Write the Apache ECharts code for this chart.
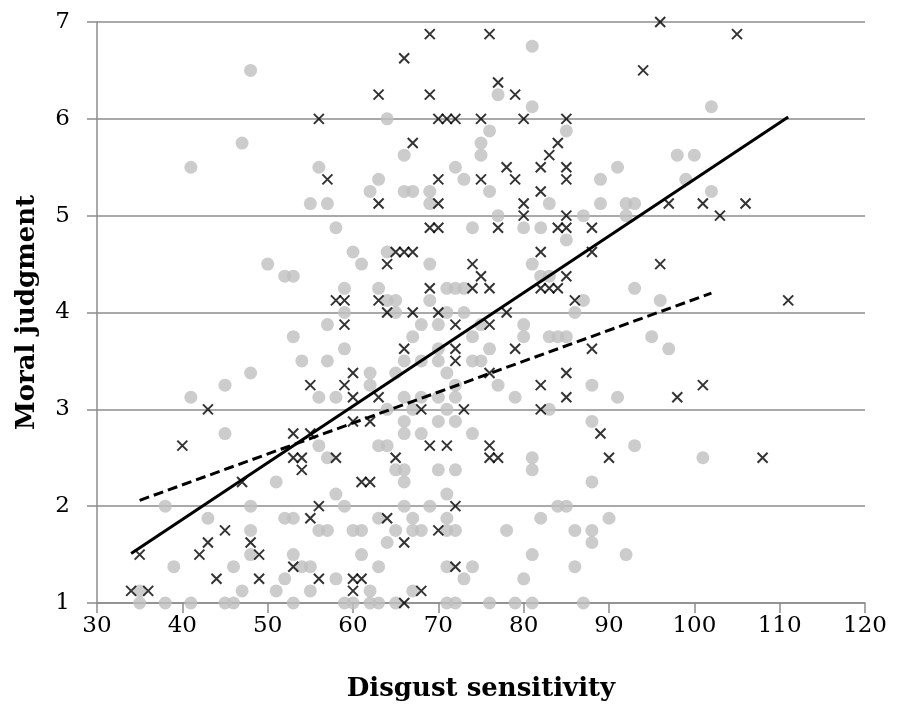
<!DOCTYPE html>
<html>
<head>
<meta charset="utf-8">
<script src="https://cdn.jsdelivr.net/npm/echarts@6/dist/echarts.min.js"></script>
<style>
  html, body { margin: 0; padding: 0; background: #fff; }
  #chart { width: 898px; height: 707px; }
</style>
</head>
<body>
<div id="chart"></div>
<script>
// gray circles: [disgust sensitivity, moral judgment]
const grayPoints = [
  [48,6.5],[47,5.75],[41,5.5],
  [64,6],[66,5.625],[75,5.75],[75,5.625],[56,5.5],[72,5.5],[63,5.375],[73,5.375],[62,5.25],[66,5.25],[67,5.25],[69,5.25],[55,5.125],[57,5.125],[69,5.125],
  [81,6.75],[77,6.25],[81,6.125],[76,5.875],[85,5.875],[98,5.625],[91,5.5],[89,5.375],[76,5.25],[83,5.125],[89,5.125],[92,5.125],[93,5.125],
  [102,6.125],[100,5.625],[99,5.375],[102,5.25],
  [50,4.5],[52,4.375],[53,4.375],[41,3.125],[45,3.25],[48,3.375],
  [45,2.75],[51,2.25],[38,2],[48,2],[43,1.875],[48,1.75],[48,1.5],[39,1.375],[46,1.375],[47,1.125],[51,1.125],[35,1.125],[35,1],[38,1],[41,1],[45,1],[46,1],
  [58,4.875],[74,4.875],[60,4.625],[64,4.625],[61,4.5],[69,4.5],[59,4.25],[63,4.25],[71,4.25],[72,4.25],[73,4.25],[64,4.125],[65,4.125],[69,4.125],
  [59,4],[65,4],[71,4],[73,4],[57,3.875],[68,3.875],[70,3.875],[53,3.75],[67,3.75],[74,3.75],[59,3.625],[70,3.625],
  [54,3.5],[57,3.5],[66,3.5],[68,3.5],[70,3.5],[74,3.5],[75,3.5],[62,3.375],[65,3.375],[71,3.375],[62,3.25],[72,3.25],
  [56,3.125],[58,3.125],[66,3.125],[68,3.125],[70,3.125],[72,3.125],[64,3],[67,3],[71,3],
  [77,5],[87,5],[92,5],[80,4.875],[82,4.875],[85,4.75],[81,4.5],[82,4.375],[83,4.375],[93,4.25],[87,4.125],[96,4.125],[86,4],
  [75,3.875],[80,3.875],[80,3.75],[83,3.75],[84,3.75],[85,3.75],[95,3.75],[76,3.625],[97,3.625],[77,3.25],[88,3.25],[79,3.125],[91,3.125],[83,3],
  [66,2.875],[70,2.875],[72,2.875],[66,2.75],[68,2.75],[74,2.75],[56,2.625],[63,2.625],[64,2.625],[57,2.5],[65,2.375],[66,2.375],[70,2.375],[72,2.375],
  [66,2.25],[58,2.125],[71,2.125],[59,2],[66,2],[69,2],[52,1.875],[53,1.875],[63,1.875],[67,1.875],[71,1.875],
  [56,1.75],[57,1.75],[60,1.75],[61,1.75],[65,1.75],[67,1.75],[68,1.75],[71,1.75],[72,1.75],[64,1.625],[53,1.5],[61,1.5],
  [54,1.375],[55,1.375],[63,1.375],[71,1.375],[74,1.375],[52,1.25],[58,1.25],[73,1.25],[55,1.125],[62,1.125],[67,1.125],
  [53,1],[59,1],[60,1],[62,1],[63,1],[65,1],[71,1],[72,1],
  [88,2.875],[93,2.625],[81,2.5],[81,2.375],[88,2.25],[84,2],[85,2],[82,1.875],[90,1.875],[78,1.75],[86,1.75],[88,1.75],[88,1.625],
  [81,1.5],[92,1.5],[86,1.375],[80,1.25],[76,1],[79,1],[81,1],[87,1],
  [101,2.5]
];

// black crosses
const crossPoints = [
  [69,6.875],[66,6.625],[63,6.25],[69,6.25],[56,6],[70,6],[71,6],[72,6],[75,6],[67,5.75],[57,5.375],[70,5.375],[75,5.375],[63,5.125],[70,5.125],
  [76,6.875],[96,7],[94,6.5],[77,6.375],[79,6.25],[80,6],[85,6],[84,5.75],[83,5.625],[78,5.5],[82,5.5],[85,5.5],[79,5.375],[85,5.375],[82,5.25],[80,5.125],[97,5.125],
  [105,6.875],[101,5.125],[106,5.125],
  [43,3],[40,2.625],[47,2.25],[45,1.75],[43,1.625],[48,1.625],[35,1.5],[42,1.5],[49,1.5],[44,1.25],[49,1.25],[34,1.125],[36,1.125],
  [69,4.875],[70,4.875],[65,4.625],[66,4.625],[67,4.625],[64,4.5],[74,4.5],[75,4.375],[69,4.25],[74,4.25],[58,4.125],[59,4.125],[63,4.125],
  [64,4],[67,4],[70,4],[59,3.875],[72,3.875],[66,3.625],[72,3.625],[72,3.5],[60,3.375],[55,3.25],[59,3.25],[60,3.125],[63,3.125],[68,3],[73,3],
  [80,5],[85,5],[77,4.875],[84,4.875],[85,4.875],[88,4.875],[82,4.625],[88,4.625],[96,4.5],[85,4.375],[76,4.25],[82,4.25],[83,4.25],[84,4.25],[86,4.125],[78,4],
  [76,3.875],[79,3.625],[88,3.625],[76,3.375],[85,3.375],[82,3.25],[85,3.125],[98,3.125],[82,3],
  [103,5],[111,4.125],[101,3.25],
  [53,2.75],[55,2.75],[60,2.875],[62,2.875],[69,2.625],[71,2.625],[53,2.5],[54,2.5],[58,2.5],[65,2.5],[54,2.375],[61,2.25],[62,2.25],
  [56,2],[72,2],[55,1.875],[64,1.875],[66,1.625],[70,1.75],[53,1.375],[72,1.375],[56,1.25],[60,1.25],[61,1.25],[60,1.125],[68,1.125],[66,1],
  [76,2.625],[76,2.5],[77,2.5],[90,2.5],[89,2.75],
  [108,2.5]
];

// fitted lines, endpoints
const solidTrend = [[34,1.51],[111,6.02]];
const dashedTrend = [[35,2.06],[102,4.2]];

const serif = '"DejaVu Serif", serif';
const axisGray = '#8c8c8c';

const chart = echarts.init(document.getElementById('chart'), null, { renderer: 'canvas' });

chart.setOption({
    animation: false,
    backgroundColor: '#fff',
    grid: { left: 97, right: 33, top: 22, bottom: 104 },
    xAxis: {
        type: 'value',
        min: 30,
        max: 120,
        interval: 10,
        name: 'Disgust sensitivity',
        nameLocation: 'middle',
        nameGap: 73,
        nameTextStyle: { fontFamily: serif, fontWeight: 'bold', fontSize: 26, color: '#000' },
        axisLine: { show: true, lineStyle: { color: axisGray, width: 1.5 } },
        axisTick: { show: true, inside: false, length: 10, lineStyle: { color: axisGray, width: 1.5 } },
        axisLabel: { fontFamily: serif, fontSize: 23, color: '#000', margin: 12 },
        splitLine: { show: false }
    },
    yAxis: {
        type: 'value',
        min: 1,
        max: 7,
        interval: 1,
        name: 'Moral judgment',
        nameLocation: 'middle',
        nameGap: 57,
        nameTextStyle: { fontFamily: serif, fontWeight: 'bold', fontSize: 26, color: '#000' },
        axisLine: { show: true, lineStyle: { color: axisGray, width: 1.5 } },
        axisTick: { show: true, inside: false, length: 10, lineStyle: { color: axisGray, width: 1.5 } },
        axisLabel: { fontFamily: serif, fontSize: 23, color: '#000', margin: 27 },
        splitLine: { show: true, lineStyle: { color: axisGray, width: 1.5 } }
    },
    series: [
        {
            type: 'scatter',
            data: grayPoints,
            symbol: 'circle',
            symbolSize: 13,
            itemStyle: { color: '#bfbfbf' },
            emphasis: { disabled: true },
            z: 2
        },
        {
            type: 'scatter',
            data: crossPoints,
            symbol: 'path://M0,0L10,10M10,0L0,10',
            symbolSize: 10,
            itemStyle: { color: 'rgba(0,0,0,0)', borderColor: '#000', borderWidth: 2 },
            emphasis: { disabled: true },
            z: 3
        },
        {
            type: 'line',
            data: solidTrend,
            symbol: 'none',
            lineStyle: { color: '#000', width: 3, type: 'solid' },
            silent: true,
            z: 4
        },
        {
            type: 'line',
            data: dashedTrend,
            symbol: 'none',
            lineStyle: { color: '#000', width: 3, type: [10, 5] },
            silent: true,
            z: 4
        }
    ]
});
</script>
</body>
</html>
